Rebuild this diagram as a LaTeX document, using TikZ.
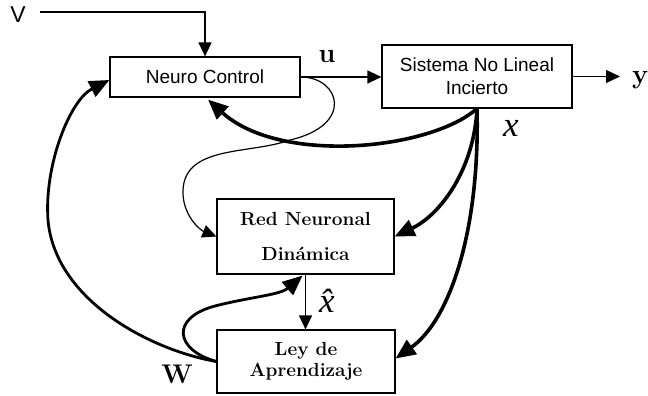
\documentclass[tikz,border=0pt]{standalone}
\usepackage{fontspec}
\newfontfamily\arialfont{Liberation Sans}
\newfontfamily\tmsfont{Liberation Serif}
\usetikzlibrary{arrows.meta}
\begin{document}
\begin{tikzpicture}[x=1pt,y=-1pt,
  blockbox/.style={draw,line width=1.2pt,inner sep=0pt,align=center},
  sanslabel/.style={font=\arialfont\fontsize{19}{23}\selectfont},
  seriflabel/.style={font=\bfseries\fontsize{19}{21}\selectfont},
  thinarrow/.style={line width=1.2pt,-{Triangle[length=14pt,width=13pt]}},
  thickarrow/.style={line width=3.6pt,-{Triangle[length=20pt,width=17pt]}},
  boldsym/.style={font=\bfseries\fontsize{27}{27}\selectfont,inner sep=0pt},
  statesym/.style={font=\tmsfont\itshape\fontsize{35}{35}\selectfont,inner sep=0pt}]
\useasboundingbox (0,0) rectangle (648,396);

% blocks
\node[blockbox,sanslabel,minimum width=190pt,minimum height=40pt] (nc) at (205,77) {Neuro Control};
\node[blockbox,sanslabel,minimum width=190pt,minimum height=63pt] (sys) at (477,76.5) {Sistema No Lineal\\Incierto};
\node[blockbox,seriflabel,minimum width=177pt,minimum height=75pt,
      font=\bfseries\fontsize{19}{35}\selectfont] (red) at (305.5,236.5) {Red Neuronal\\Din\'amica};
\node[blockbox,seriflabel,minimum width=178pt,minimum height=63pt] (ley) at (306,361.5) {Ley de\\Aprendizaje};

% signal labels
\node[sanslabel,font=\arialfont\fontsize{23}{23}\selectfont,inner sep=0pt] (vlab) at (18,15) {V};
\node[boldsym] (ulab) at (327,57) {u};
\node[boldsym,anchor=west] (ylab) at (632,80) {y};
\node[boldsym] (wlab) at (177,374) {W};
\node[statesym] (xlab) at (511,128) {x};
\node[statesym] (xhlab) at (327,301) {\^{x}};

% reference input and plant output
\coordinate (vstart) at (40,12);
\coordinate (yout) at (620,76.5);
\draw[thinarrow] (vstart) -| (nc.north);
\draw[thinarrow] (nc.east) -- (nc.east -| sys.west);
\draw[thinarrow] (sys.east) -- (yout);

% control signal fed to the dynamic network
\draw[thinarrow] (nc.east) .. controls (340,77) and (355,125) .. (290,140)
  .. controls (250,154.5) and (185,145) .. (183,190)
  .. controls (182,215) and (200,230) .. (red.west);

% state feedback
\draw[thickarrow] (sys.south) .. controls (430,150) and (280,165) .. ([xshift=3pt,yshift=-2pt]nc.south);
\draw[thickarrow] (sys.south) .. controls (474,170) and (440,215) .. (red.east);
\draw[thickarrow] (sys.south) .. controls (480,230) and (450,320) .. ([yshift=3pt]ley.east);

% estimated state
\draw[thinarrow] (red.south) -- (red.south |- ley.north);

% weights
\draw[thickarrow,line width=2.8pt] (ley.west) .. controls (150,350) and (55,300) .. (48,220)
  .. controls (44,165) and (70,100) .. ([yshift=-3pt]nc.west);
\draw[thickarrow,line width=2.8pt] (ley.west) .. controls (175,350) and (170,318) .. (215,306)
  .. controls (250,297) and (280,295) .. ([xshift=-3pt,yshift=-1pt]red.south);
\end{tikzpicture}
\end{document}
